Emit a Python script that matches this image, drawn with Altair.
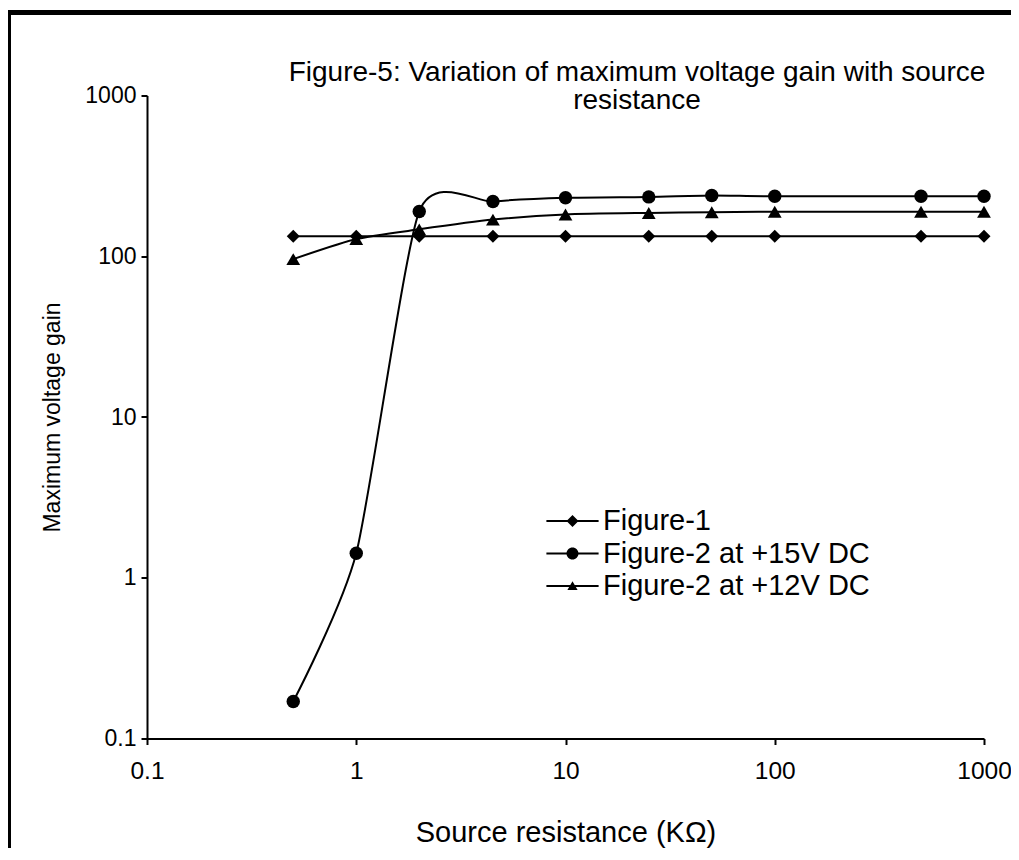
import altair as alt
import pandas as pd

# ---- data ----
resistance = [0.5, 1, 2, 4.5, 10, 25, 50, 100, 500, 1000]
fig1 = [133, 133, 133, 133, 133, 133, 133, 133, 133, 133]
fig2_15v = [0.17, 1.42, 190, 219, 231, 234, 239, 236, 236, 236]
fig2_12v = [96, 128, 147, 169, 182, 186, 188, 189, 189, 189]
series_names = ["Figure-1", "Figure-2 at +15V DC", "Figure-2 at +12V DC"]
x_ticks = [0.1, 1, 10, 100, 1000]
y_ticks = [0.1, 1, 10, 100, 1000]
title_lines = ["Figure-5: Variation of maximum voltage gain with source", "resistance"]

rows = []
for name, vals in zip(series_names, [fig1, fig2_15v, fig2_12v]):
    for r, v in zip(resistance, vals):
        rows.append({"series": name, "r": r, "gain": v})
df = pd.DataFrame(rows)

FONT = "Liberation Sans"

x_enc = alt.X("r:Q", scale=alt.Scale(type="log", domain=[0.1, 1000]),
              axis=alt.Axis(values=x_ticks, format="~g", title="Source resistance (KΩ)",
                            titleY=103, titleBaseline="alphabetic", labelPadding=15,
                            labelFontSize=24.5, labelFlush=False, titleFontSize=29))
y_enc = alt.Y("gain:Q", scale=alt.Scale(type="log", domain=[0.1, 1000]),
              axis=alt.Axis(values=y_ticks, format="~g", title="Maximum voltage gain",
                            titleX=-88, titleBaseline="alphabetic", labelPadding=5,
                            labelFontSize=23, titleFontSize=23))

base = alt.Chart(df)

lines = base.mark_line(interpolate="cardinal", tension=0.35, color="black", strokeWidth=2).encode(
    x=x_enc, y=y_enc, detail="series:N")

points = base.mark_point(filled=True, color="black", opacity=1).encode(
    x="r:Q", y="gain:Q",
    shape=alt.Shape("series:N", scale=alt.Scale(domain=series_names,
                    range=["diamond", "circle", "triangle-up"]), legend=None),
    size=alt.Size("series:N", scale=alt.Scale(domain=series_names, range=[170, 190, 145]),
                  legend=None),
)

# legend symbols: a short line (thin filled bar) with the marker in its middle
bar = "M-4.35,-0.17H4.35V0.17H-4.35Z"
legend_paths = [
    bar + "M0,-1L1,0L0,1L-1,0Z",
    bar + "M-1,0A1,1,0,1,1,1,0A1,1,0,1,1,-1,0Z",
    bar + "M0,-0.8L0.85,0.65L-0.85,0.65Z",
]
legend_layer = base.mark_point(filled=True, color="black", opacity=1).encode(
    x="r:Q", y="gain:Q",
    shape=alt.Shape("series:N", scale=alt.Scale(domain=series_names, range=legend_paths),
                    legend=alt.Legend(title=None, orient="none", legendX=411, legendY=411,
                                      symbolSize=144, symbolOpacity=1,
                                      symbolFillColor="black",
                                      labelOffset=16, rowPadding=2.5, padding=0,
                                      labelFontSize=29, labelFont=FONT, labelColor="black",
                                      labelLimit=500)),
).transform_filter("false")

one_row = alt.Data(values=[{"k": 1}])
title_text = alt.Chart(alt.Data(values=[{"t": title_lines}])).mark_text(
    font=FONT, fontSize=28, color="black", align="center", baseline="alphabetic",
    lineHeight=28).encode(text="t:N", x=alt.value(490), y=alt.value(-15))

frame_left = alt.Chart(one_row).mark_rule(color="black", strokeWidth=5).encode(
    x=alt.value(-138.5), y=alt.value(-85.5), y2=alt.value(760))
frame_top = alt.Chart(one_row).mark_rule(color="black", strokeWidth=5).encode(
    x=alt.value(-141), x2=alt.value(880), y=alt.value(-83))

chart = alt.layer(lines, points, legend_layer, title_text, frame_left, frame_top).resolve_scale(
    shape="independent", size="independent"
).properties(
    width=837, height=643,
    background="white",
    autosize=alt.AutoSizeParams(type="none"),
    padding={"left": 139, "top": 87.5, "right": 27, "bottom": 109.5},
).configure_view(strokeWidth=0).configure_axis(
    grid=False, domainColor="black", domainWidth=2, tickColor="black", tickWidth=2,
    tickSize=6, labelFont=FONT, labelColor="black",
    titleFont=FONT, titleColor="black", titleFontWeight="normal",
)

chart.save("out.html", embed_options={"renderer": "svg", "actions": False})
